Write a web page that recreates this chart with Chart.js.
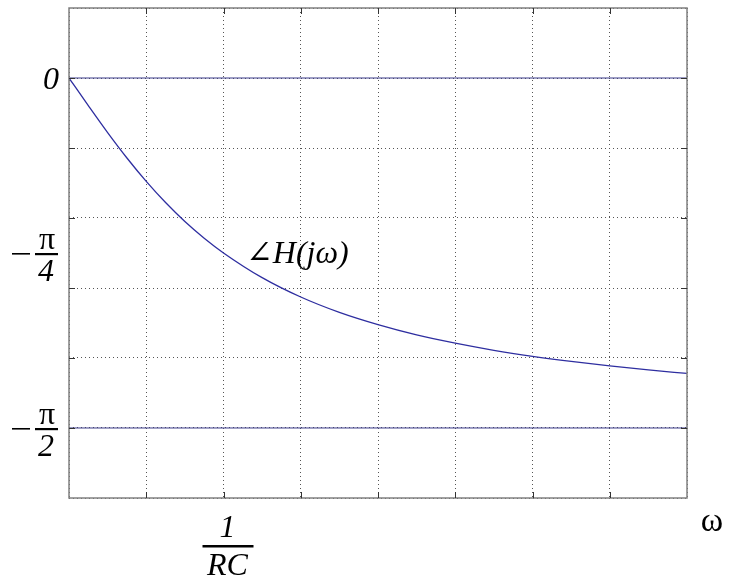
<!DOCTYPE html>
<html>
<head>
<meta charset="utf-8">
<script src="https://cdn.jsdelivr.net/npm/chart.js@4/dist/chart.umd.min.js"></script>
<style>
  html, body { margin: 0; padding: 0; background: #fff; }
  #wrap { width: 729px; height: 579px; }
</style>
</head>
<body>
<div id="wrap"><canvas id="phaseChart"></canvas></div>
<script>
// omega in grid units (1/RC sits at 2)
var omega = [0, 0.25, 0.5, 0.75, 1, 1.25, 1.5, 1.75, 2, 2.5, 3, 3.5, 4, 4.5, 5, 5.5, 6, 6.5, 7, 7.5, 8];
// phase, radians
var phase = [0, -0.124, -0.245, -0.359, -0.464, -0.559, -0.644, -0.719, -0.785, -0.896, -0.983, -1.052, -1.107, -1.153, -1.190, -1.222, -1.249, -1.272, -1.292, -1.310, -1.326];
// solid reference levels: 0 and -pi/2
var refLevels = [0, -1.5708];
// y grid every pi/10
var yGrid = [0.3142, 0, -0.3142, -0.6283, -0.9425, -1.2566, -1.5708, -1.885];
var xGrid = [0, 1, 2, 3, 4, 5, 6, 7, 8];
// labelled ticks
var yLabels = [{ v: 0, top: '0' }, { v: -0.7854, top: 'π', bot: '4' }, { v: -1.5708, top: 'π', bot: '2' }];
var xLabel = { v: 2, top: '1', bot: 'RC' };

var curve = omega.map(function (w, i) { return { x: w, y: phase[i] }; });
var refSets = refLevels.map(function (lv) {
  return {
    data: [{ x: 0, y: lv }, { x: 8, y: lv }],
    borderColor: '#3a3a8a', borderWidth: 1, pointRadius: 0
  };
});

var serif = '"Liberation Serif", "DejaVu Serif", serif';

var annotate = {
  id: 'annotate',
  afterDraw: function (chart) {
    var ctx = chart.ctx, a = chart.chartArea;
    var xs = chart.scales.x, ys = chart.scales.y;
    ctx.save();
    // frame
    ctx.strokeStyle = '#808080';
    ctx.lineWidth = 1.5;
    ctx.strokeRect(a.left, a.top, a.right - a.left, a.bottom - a.top);
    // small inward ticks
    ctx.strokeStyle = '#333';
    ctx.lineWidth = 1;
    xGrid.slice(1, -1).forEach(function (v) {
      var px = Math.round(xs.getPixelForValue(v)) + 0.5;
      ctx.beginPath();
      ctx.moveTo(px, a.top); ctx.lineTo(px, a.top + 6);
      ctx.moveTo(px, a.bottom); ctx.lineTo(px, a.bottom - 6);
      ctx.stroke();
    });
    yGrid.slice(1, -1).forEach(function (v) {
      var py = Math.round(ys.getPixelForValue(v)) + 0.5;
      ctx.beginPath();
      ctx.moveTo(a.right, py); ctx.lineTo(a.right - 6, py);
      ctx.moveTo(a.left, py); ctx.lineTo(a.left + 6, py);
      ctx.stroke();
    });

    ctx.fillStyle = '#000';
    ctx.textAlign = 'center';
    ctx.textBaseline = 'middle';
    // y labels
    yLabels.forEach(function (l) {
      var py = ys.getPixelForValue(l.v);
      if (!l.bot) {
        ctx.font = 'italic 32px ' + serif;
        ctx.fillText(l.top, 51, py + 3);
        return;
      }
      ctx.font = '32px ' + serif;
      ctx.fillText(l.top, 47, py - 12);
      ctx.font = 'italic 32px ' + serif;
      ctx.fillText(l.bot, 46, py + 20);
      ctx.fillRect(35, py, 23, 2.2);
      ctx.fillRect(12, py, 18, 1.6);
    });
    // x label 1/RC
    var px = xs.getPixelForValue(xLabel.v) + 4;
    var top = a.bottom;
    ctx.font = 'italic 32px ' + serif;
    ctx.fillText(xLabel.top, px, top + 31);
    ctx.fillRect(px - 25, top + 47, 51, 2.5);
    ctx.fillText(xLabel.bot, px, top + 69);
    // omega
    ctx.font = '34px ' + serif;
    ctx.fillText('ω', 712, a.bottom + 24);
    // curve label
    ctx.textAlign = 'left';
    ctx.font = 'italic 32px ' + serif;
    ctx.fillText('∠H(jω)', 246, 255);
    ctx.restore();
  }
};

new Chart('phaseChart', {
  type: 'line',
  data: {
    datasets: [{
      data: curve,
      borderColor: '#2e2ea0',
      borderWidth: 1.3,
      pointRadius: 0,
      cubicInterpolationMode: 'monotone'
    }].concat(refSets)
  },
  options: {
    responsive: true,
    maintainAspectRatio: false,
    animation: false,
    layout: { padding: { left: 69, top: 8, right: 42, bottom: 81 } },
    plugins: { legend: { display: false }, tooltip: { enabled: false } },
    scales: {
      x: {
        type: 'linear', min: 0, max: 8,
        afterBuildTicks: function (s) { s.ticks = xGrid.map(function (v) { return { value: v }; }); },
        ticks: { display: false },
        grid: { color: '#555', drawTicks: false, lineWidth: 1 },
        border: { display: false, dash: [1, 3] }
      },
      y: {
        type: 'linear', min: -1.885, max: 0.3142,
        afterBuildTicks: function (s) { s.ticks = yGrid.map(function (v) { return { value: v }; }); },
        ticks: { display: false },
        grid: { color: '#555', drawTicks: false, lineWidth: 1 },
        border: { display: false, dash: [1, 3] }
      }
    }
  },
  plugins: [annotate]
});
</script>
</body>
</html>
